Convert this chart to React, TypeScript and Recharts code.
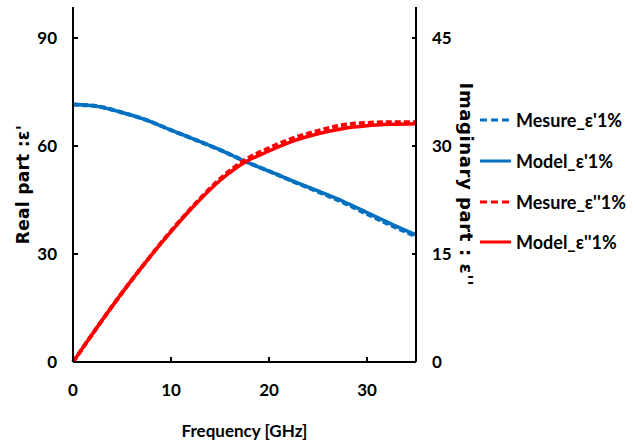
import { LineChart, Line, XAxis, YAxis, Legend, Label } from "recharts";

// frequency in GHz
const freq = [0, 2.5, 5, 7.5, 10, 12.5, 15, 17.5, 20, 22.5, 25, 27.5, 30, 32.5, 35];
// real part (left axis)
const measureReal = [71.5, 71.0, 69.3, 67.2, 64.4, 61.7, 58.9, 55.8, 53.0, 50.1, 47.3, 44.4, 41.1, 37.9, 34.9];
const modelReal = [71.5, 71.0, 69.3, 67.2, 64.4, 61.7, 58.9, 55.8, 53.0, 50.2, 47.5, 44.7, 41.5, 38.3, 35.3];
// imaginary part (right axis)
const measureImag = [0, 4.9, 9.6, 14.0, 18.2, 22.0, 25.4, 28.0, 29.7, 31.1, 32.1, 32.9, 33.2, 33.3, 33.3];
const modelImag = [0, 4.9, 9.6, 14.0, 18.1, 21.9, 25.2, 27.7, 29.3, 30.7, 31.7, 32.4, 32.8, 33.0, 33.1];

const xTicks = [0, 10, 20, 30];
const leftTicks = [0, 30, 60, 90];
const rightTicks = [0, 15, 30, 45];
const legendOrder = ["Mesure_ε'1%", "Model_ε'1%", "Mesure_ε''1%", "Model_ε''1%"];

const data = freq.map((f, i) => ({
  f,
  mReal: measureReal[i],
  real: modelReal[i],
  mImag: measureImag[i],
  imag: modelImag[i],
}));

const BLUE = "#0070C0";
const RED = "#FF0000";
const tickFont = { fontFamily: "Lato", fontSize: 17, fontWeight: 700, fill: "#000" };

const renderLegend = (props: any) => {
  const items = [...(props.payload || [])].sort(
    (a: any, b: any) => legendOrder.indexOf(a.value) - legendOrder.indexOf(b.value)
  );
  return (
    <div>
      {items.map((it: any) => (
        <div key={it.value} style={{ display: "flex", alignItems: "center", height: 40.7 }}>
          <svg width={34} height={10}>
            <line
              x1={0}
              y1={5}
              x2={31}
              y2={5}
              stroke={it.color}
              strokeWidth={3}
              strokeDasharray={it.value.startsWith("Mesure") ? "7 4" : undefined}
            />
          </svg>
          <span style={{ fontFamily: "Lato", fontWeight: 700, fontSize: 18, color: "#000", marginLeft: 2 }}>
            {it.value}
          </span>
        </div>
      ))}
    </div>
  );
};

export default function App() {
  return (
    <div style={{ position: "absolute", left: 0, top: 0 }}>
      <LineChart width={635} height={446} data={data} margin={{ top: 7, right: 159, bottom: 0, left: 0 }}>
        <XAxis
          dataKey="f"
          type="number"
          domain={[0, 35]}
          ticks={xTicks}
          height={84}
          stroke="#000"
          strokeWidth={2}
          tickSize={-5}
          tickMargin={27}
          tick={tickFont}
        >
          <Label
            value="Frequency [GHz]"
            position="insideBottom"
            offset={9}
            style={{ fontFamily: "Lato", fontSize: 17, fontWeight: 700, fill: "#000" }}
          />
        </XAxis>
        <YAxis
          yAxisId="left"
          domain={[0, 98.6]}
          ticks={leftTicks}
          width={73}
          stroke="#000"
          strokeWidth={2}
          tickSize={-5}
          tickMargin={21}
          tick={tickFont}
        >
          <Label
            value="Real part :ε'"
            angle={-90}
            position="insideLeft"
            offset={23}
            style={{
              fontFamily: "DejaVu Sans",
              fontSize: 17,
              fontWeight: 700,
              letterSpacing: 0.3,
              fill: "#000",
              textAnchor: "middle",
            }}
          />
        </YAxis>
        <YAxis
          yAxisId="right"
          orientation="right"
          domain={[0, 49.3]}
          ticks={rightTicks}
          width={60}
          stroke="#000"
          strokeWidth={2}
          tickSize={-4}
          tickMargin={20}
          tick={{ ...tickFont, textAnchor: "start" }}
        >
          <Label
            value="Imaginary part : ε''"
            angle={90}
            position="insideRight"
            offset={10}
            style={{
              fontFamily: "DejaVu Sans",
              fontSize: 18,
              fontWeight: 700,
              letterSpacing: 0.6,
              fill: "#000",
              textAnchor: "middle",
            }}
          />
        </YAxis>
        <Legend
          layout="vertical"
          align="center"
          verticalAlign="middle"
          content={renderLegend}
          wrapperStyle={{ left: 480, top: 100, width: 150 }}
        />
        <Line
          yAxisId="left"
          dataKey="mReal"
          name="Mesure_ε'1%"
          stroke={BLUE}
          strokeWidth={4}
          strokeDasharray="6 3"
          dot={false}
          type="monotone"
          isAnimationActive={false}
        />
        <Line
          yAxisId="left"
          dataKey="real"
          name="Model_ε'1%"
          stroke={BLUE}
          strokeWidth={3.5}
          dot={false}
          type="monotone"
          isAnimationActive={false}
        />
        <Line
          yAxisId="right"
          dataKey="mImag"
          name="Mesure_ε''1%"
          stroke={RED}
          strokeWidth={4}
          strokeDasharray="6 3"
          dot={false}
          type="monotone"
          isAnimationActive={false}
        />
        <Line
          yAxisId="right"
          dataKey="imag"
          name="Model_ε''1%"
          stroke={RED}
          strokeWidth={3.5}
          dot={false}
          type="monotone"
          isAnimationActive={false}
        />
      </LineChart>
    </div>
  );
}
